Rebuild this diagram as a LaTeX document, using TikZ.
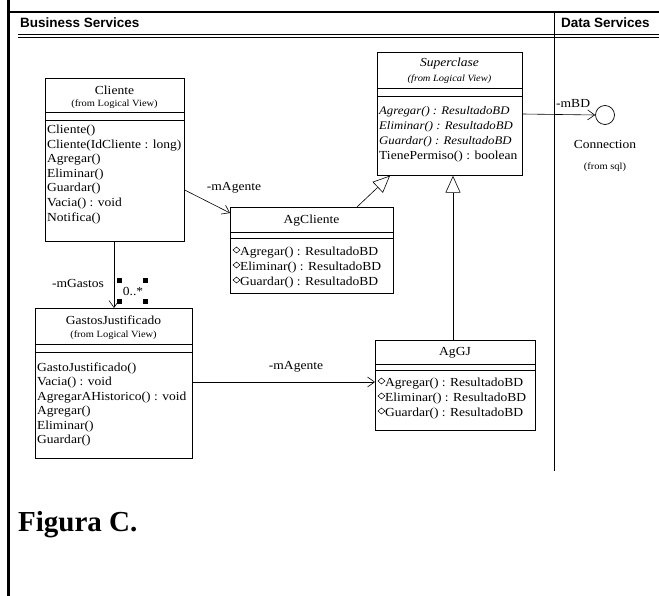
\documentclass[tikz,border=0pt]{standalone}
\usepackage{fontspec}
\setmainfont{Liberation Serif}
\setsansfont{Liberation Sans}
\newfontfamily\umlfont[FakeStretch=1.1]{Liberation Serif}
\usetikzlibrary{arrows.meta}

\begin{document}
\begin{tikzpicture}[x=1pt,y=-1pt,
  class_box/.style={draw, line width=0.7pt, anchor=north west, inner sep=0},
  cls_name/.style={font=\umlfont\fontsize{12.3}{14}\selectfont, inner sep=0},
  cls_from/.style={font=\umlfont\fontsize{9.5}{11}\selectfont, inner sep=0},
  op_text/.style={anchor=west, inner sep=0, font=\umlfont\fontsize{12.3}{14}\selectfont},
  abs_text/.style={op_text, font=\umlfont\itshape\fontsize{11.6}{14}\selectfont},
  assoc_arrow/.style={line width=0.6pt, -{Straight Barb[length=7pt,width=10pt]}},
  gen_arrow/.style={line width=0.6pt, -{Triangle[open,length=17pt,width=15pt,fill=white]}},
  lbl/.style={font=\umlfont\fontsize{12.3}{14}\selectfont, inner sep=0},
  handle/.style={fill=black, minimum size=5pt, inner sep=0}]

\useasboundingbox (0,0) rectangle (659,596);

% frame and swimlanes
\draw[line width=3pt] (8,0) -- (8,596);
\draw[line width=2.5pt] (6.5,12) -- (659,12);
\draw[line width=0.6pt] (18,34) -- (659,34);
\draw[line width=0.6pt] (18,37) -- (659,37);
\draw[line width=0.8pt] (554,12) -- (554,471);
\node[anchor=west, font=\sffamily\bfseries\fontsize{13.5}{15}\selectfont, inner sep=0] (business) at (20,23) {Business Services};
\node[anchor=west, font=\sffamily\bfseries\fontsize{13.5}{15}\selectfont, inner sep=0] (data) at (561,23) {Data Services};

% Cliente
\node[class_box, minimum width=139pt, minimum height=163pt] (cliente) at (45,78) {};
\node[cls_name] (cliente_name) at (114.5,90) {Cliente};
\node[cls_from] (cliente_from) at (114.5,104) {(from Logical View)};
\draw (cliente.west |- 0,112) -- (cliente.east |- 0,112);
\draw (cliente.west |- 0,120) -- (cliente.east |- 0,120);
\foreach \op [count=\i from 0] in {Cliente(), Cliente(IdCliente : long), Agregar(), Eliminar(), Guardar(), Vacia() : void, Notifica()}
  \node[op_text] (cliente_op\i) at (47,131+14.5*\i) {\op};

% Superclase
\node[class_box, minimum width=145pt, minimum height=123pt] (super) at (377,52) {};
\node[cls_name, font=\umlfont\itshape\fontsize{12.3}{14}\selectfont] (super_name) at (449.5,64) {Superclase};
\node[cls_from, font=\umlfont\itshape\fontsize{9.5}{11}\selectfont] (super_from) at (449.5,79) {(from Logical View)};
\draw (super.west |- 0,88) -- (super.east |- 0,88);
\draw (super.west |- 0,96) -- (super.east |- 0,96);
\foreach \op [count=\i from 0] in {Agregar() : ResultadoBD, Eliminar() : ResultadoBD, Guardar() : ResultadoBD}
  \node[abs_text] (super_op\i) at (379,112+15*\i) {\op};
\node[op_text] (super_op3) at (379,157) {TienePermiso() : boolean};

% AgCliente
\node[class_box, minimum width=163pt, minimum height=86pt] (agcliente) at (230,207) {};
\node[cls_name] (agcliente_name) at (311.5,221) {AgCliente};
\draw (agcliente.west |- 0,232) -- (agcliente.east |- 0,232);
\draw (agcliente.west |- 0,238) -- (agcliente.east |- 0,238);
\foreach \op [count=\i from 0] in {Agregar() : ResultadoBD, Eliminar() : ResultadoBD, Guardar() : ResultadoBD}{
  \draw[line width=0.5pt] (233,253+15*\i-3) -- ++(3.5,-3) -- ++(3.5,3) -- ++(-3.5,3) -- cycle;
  \node[op_text] (agcliente_op\i) at (240,253+15*\i) {\op};
}

% GastosJustificado
\node[class_box, minimum width=157pt, minimum height=150pt] (gastos) at (35,308) {};
\node[cls_name] (gastos_name) at (113.5,320) {GastosJustificado};
\node[cls_from] (gastos_from) at (113.5,335) {(from Logical View)};
\draw (gastos.west |- 0,344) -- (gastos.east |- 0,344);
\draw (gastos.west |- 0,352) -- (gastos.east |- 0,352);
\foreach \op [count=\i from 0] in {GastoJustificado(), Vacia() : void, AgregarAHistorico() : void, Agregar(), Eliminar(), Guardar()}
  \node[op_text] (gastos_op\i) at (37,368+14.6*\i) {\op};

% AgGJ
\node[class_box, minimum width=160pt, minimum height=90pt] (aggj) at (375,340) {};
\node[cls_name] (aggj_name) at (455,353) {AgGJ};
\draw (aggj.west |- 0,364) -- (aggj.east |- 0,364);
\draw (aggj.west |- 0,370) -- (aggj.east |- 0,370);
\foreach \op [count=\i from 0] in {Agregar() : ResultadoBD, Eliminar() : ResultadoBD, Guardar() : ResultadoBD}{
  \draw[line width=0.5pt] (378,384+15*\i-3) -- ++(3.5,-3) -- ++(3.5,3) -- ++(-3.5,3) -- cycle;
  \node[op_text] (aggj_op\i) at (385,384+15*\i) {\op};
}

% Connection interface
\node[circle, draw, line width=0.7pt, minimum size=19pt, inner sep=0] (connection) at (605,115) {};
\node[lbl] (connection_name) at (605,144) {Connection};
\node[cls_from] (connection_from) at (605,167) {(from sql)};

% relations
\draw[assoc_arrow] (cliente.east |- 0,190) -- (agcliente.west |- 0,213);
\node[lbl] (magente1) at (234,188) {-mAgente};
\draw[gen_arrow] (agcliente.north -| 357,0) -- (super.south -| 390,0);
\draw[gen_arrow] (aggj.north -| 453,0) -- (super.south -| 453,0);
\draw[assoc_arrow] (cliente.south -| 114,0) -- (gastos.north -| 114,0);
\node[lbl] (mgastos) at (78,283) {-mGastos};
\node[lbl] (mult) at (133,291) {0..*};
\foreach \hx/\hy [count=\i] in {119/281, 145/281, 119/302, 145/302}
  \node[handle] (handle\i) at (\hx,\hy) {};
\draw[assoc_arrow] (gastos.east |- 0,382) -- (aggj.west |- 0,382);
\node[lbl] (magente2) at (296,367) {-mAgente};
\draw[assoc_arrow] (super.east |- 0,114) -- (connection.west);
\node[lbl, anchor=west] (mbd) at (556,103) {-mBD};

\node[anchor=base west, font=\bfseries\fontsize{29}{33}\selectfont, inner sep=0] (figura) at (18,531) {Figura C.};

\end{tikzpicture}
\end{document}
